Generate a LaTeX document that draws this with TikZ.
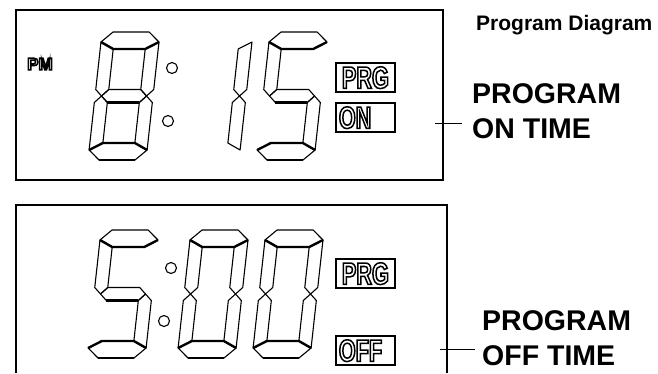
\documentclass[tikz,border=0pt]{standalone}
\usepackage{fontspec}
\setmainfont{Liberation Sans}
\newfontfamily\lcdfont[FakeStretch=0.7]{Liberation Sans}
\usetikzlibrary{positioning}

% one segment each, local units, y up
\newcommand{\lcda}{\draw[seg] (0,118) -- (11,128) -- (47,128) -- (58,118) -- (45,111) -- (13,111) -- cycle;
  \draw[segthick] (0,118) -- (13,111) -- (45,111) -- (58,118);}
\newcommand{\lcdb}{\draw[seg] (58,118) -- (58,70.5) -- (51.5,64) -- (45,70.5) -- (45,111) -- cycle;}
\newcommand{\lcdc}{\draw[seg] (58,57.5) -- (58,10) -- (45,17) -- (45,57.5) -- (51.5,64) -- cycle;}
\newcommand{\lcdd}{\draw[seg] (0,10) -- (11,0) -- (47,0) -- (58,10) -- (45,17) -- (13,17) -- cycle;
  \draw[segthick] (0,10) -- (13,17) -- (45,17) -- (58,10); \draw[segthick] (11,0) -- (47,0);}
\newcommand{\lcde}{\draw[seg] (0,10) -- (0,57.5) -- (6.5,64) -- (13,57.5) -- (13,17) -- cycle;}
\newcommand{\lcdf}{\draw[seg] (0,118) -- (0,70.5) -- (6.5,64) -- (13,70.5) -- (13,111) -- cycle;}
\newcommand{\lcdg}{\draw[seg] (6.5,64) -- (13,70.5) -- (45,70.5) -- (51.5,64) -- (45,57.5) -- (13,57.5) -- cycle;
  \draw[segthick] (13,57.5) -- (45,57.5);}
\newcommand{\lcddigit}[2]{%
  \begin{scope}[shift={#1}, x=1pt, y=1pt, xslant=0.11]
    \foreach \s in {#2} {\csname lcd\s\endcsname}
  \end{scope}}
\newcommand{\hollow}[1]{\special{pdf:literal 1 Tr 1.5 w}#1\special{pdf:literal 0 Tr}}

\begin{document}
\begin{tikzpicture}[x=1pt, y=-1pt,
    seg/.style={line width=1.1pt, line join=round},
    segthick/.style={line width=2.4pt, line join=round},
    frame/.style={line width=1.5pt},
    lcdbox/.style={draw, line width=1.7pt, anchor=north west, inner xsep=3pt, inner ysep=0pt,
      minimum width=59pt, minimum height=29pt, text width=53pt, text height=22pt, text depth=0pt,
      font=\lcdfont\bfseries\fontsize{31}{31}\selectfont},
    bigtext/.style={anchor=base west, align=left, inner sep=0pt, font=\bfseries\fontsize{28.5}{35}\selectfont},
    lead/.style={line width=0.9pt}]
    \useasboundingbox (0,0) rectangle (658,373);

    % displays
    \draw[frame] (16,10) rectangle (443,180);
    \draw[frame] (16,373) -- (16,205) -- (447,205) -- (447,373);

    % 8:15
    \node (pm) at (27,64) [anchor=west, inner sep=0pt, font=\bfseries\fontsize{17}{17}\selectfont] {\hollow{PM}};
    \lcddigit{(88,160)}{a,b,c,d,e,f,g}
    \lcddigit{(181,160)}{b,c}
    \lcddigit{(256,160)}{a,f,g,c,d}
    \draw[seg] (172,68) circle (5.5) (168,121) circle (5.5);
    \node (prgon) at (335,62) [lcdbox, align=center] {\hollow{PRG}};
    \node (on) at (335,102) [lcdbox, align=left] {\hollow{ON}};

    % 5:00
    \lcddigit{(87,358)}{a,f,g,c,d}
    \lcddigit{(177,358)}{a,b,c,d,e,f}
    \lcddigit{(252,358)}{a,b,c,d,e,f}
    \draw[seg] (171,268) circle (5.5) (164,321) circle (5.5);
    \node (prgoff) at (335,258) [lcdbox, align=center] {\hollow{PRG}};
    \node (off) at (335,335) [lcdbox, align=left] {\hollow{OFF}};

    % labels
    \node (title) at (476,30) [anchor=base west, inner sep=0pt, font=\bfseries\fontsize{21}{25}\selectfont] {Program Diagram};
    \node (ontxt) at (472,138) [bigtext] {PROGRAM\\ON TIME};
    \node (offtxt) at (482,365) [bigtext] {PROGRAM\\OFF TIME};

    \coordinate (ontip) at (435,123);
    \coordinate (offtip) at (440,349);
    \draw[lead, shorten >=10pt] (ontip) -- (ontip -| ontxt.west);
    \draw[lead, shorten >=7pt] (offtip) -- (offtip -| offtxt.west);
\end{tikzpicture}
\end{document}
